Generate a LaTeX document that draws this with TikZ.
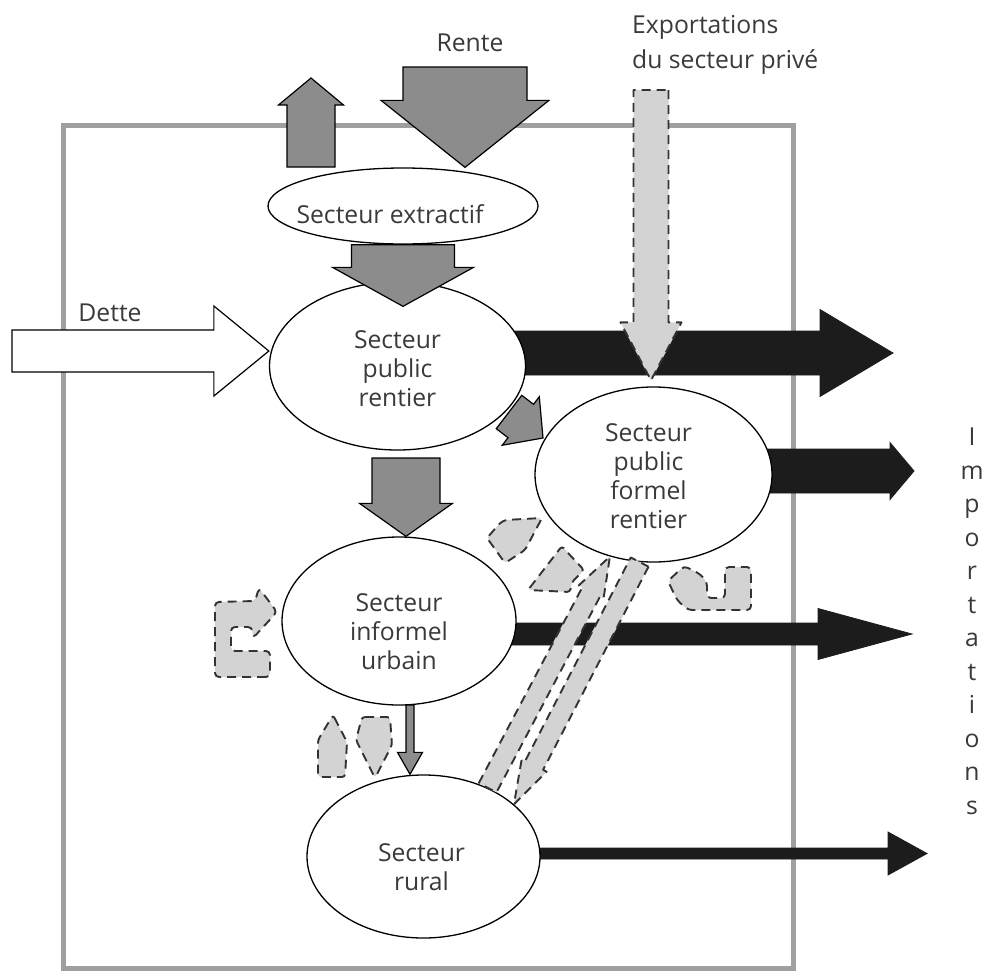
\documentclass[tikz,border=0pt]{standalone}
\usepackage{fontspec}
\setmainfont{Open Sans}
\usepackage{tikz}
\usetikzlibrary{calc,shapes.geometric,backgrounds}
\definecolor{rentgray}{HTML}{8C8C8C}
\definecolor{flowlight}{HTML}{D3D3D3}
\definecolor{framegray}{HTML}{A0A0A0}
\definecolor{importblack}{HTML}{1C1C1C}
\definecolor{labeltext}{HTML}{3A3A3A}
\tikzset{
  sector/.style={ellipse,draw=black,line width=1.3pt,fill=white,inner sep=0pt},
  sectortext/.style={align=center,font=\fontsize{24.7}{29}\selectfont,
                     text=labeltext,inner sep=0pt},
  flowtext/.style={font=\fontsize{24.7}{35}\selectfont,text=labeltext,inner sep=0pt},
  rentarrow/.style={fill=rentgray,draw=black,line width=1.2pt},
  importarrow/.style={fill=importblack,draw=importblack,line width=0.8pt},
  debtarrow/.style={fill=white,draw=black,line width=1.2pt},
  lightflow/.style={fill=flowlight,draw=black!80,line width=1.9pt,
                    dash pattern=on 9pt off 6pt,line join=round},
  framebox/.style={draw=framegray,line width=5pt},
}
% block arrow: style, tail, tip, shaft half width, head half width, head length
\newcommand\blockarrow[6]{%
  \coordinate (headbase) at ($(#3)!#6pt!(#2)$);
  \draw[#1] ($(#2)!#4pt!90:(#3)$) -- ($(headbase)!#4pt!90:(#3)$)
    -- ($(headbase)!#5pt!90:(#3)$) -- (#3)
    -- ($(headbase)!#5pt!-90:(#3)$) -- ($(headbase)!#4pt!-90:(#3)$)
    -- ($(#2)!#4pt!-90:(#3)$) -- cycle;
}

\begin{document}
\begin{tikzpicture}[x=1pt,y=-1pt]
  \useasboundingbox (0,0) rectangle (995,974);

  % sectors
  \node[sector,minimum width=270pt,minimum height=76pt] (extractif) at (403,206) {};
  \node[sector,minimum width=256pt,minimum height=168pt] (pubrent) at (397.5,366) {};
  \node[sector,minimum width=237pt,minimum height=175pt] (formel) at (653.5,474.5) {};
  \node[sector,minimum width=234pt,minimum height=168pt] (informel) at (399,621) {};
  \node[sector,minimum width=233pt,minimum height=163pt] (rural) at (423.5,856.5) {};

  \node[sectortext] (extractifTxt) at ($(extractif)+(-13,8)$) {Secteur extractif};
  \node[sectortext] (pubrentTxt) at ($(pubrent)+(0,3)$) {Secteur\\public\\rentier};
  \node[sectortext] (formelTxt) at ($(formel)+(-5,2)$) {Secteur\\public\\formel\\rentier};
  \node[sectortext] (informelTxt) at ($(informel)+(0,11)$) {Secteur\\informel\\urbain};
  \node[sectortext] (ruralTxt) at ($(rural)+(-2,11)$) {Secteur\\rural};

  % free ends of the flows
  \coordinate (renteSrc) at (465,67);
  \coordinate (fuiteSrc) at (311,167);
  \coordinate (fuiteTip) at (311,78);
  \coordinate (detteSrc) at (12,351);
  \coordinate (exportSrc) at (651,90);
  \coordinate (imp1) at (893,353);
  \coordinate (imp2) at (914,471);
  \coordinate (imp3) at (912,634);
  \coordinate (imp4) at (927,853.5);
  \coordinate (pubTip) at ($(extractif.south |- pubrent.north)+(0,25)$);
  \coordinate (downSrc) at (406,458);
  \coordinate (thinSrc) at (410,705);
  \coordinate (leakSrc) at (509,412);
  \coordinate (leakTip) at (543,438);
  \coordinate (exportTip) at ($(exportSrc |- formel.north)+(0,-6)$);

  \begin{pgfonlayer}{background}
    \draw[framebox] (63,125) rectangle (793,968);
    \foreach \sec/\tip/\w/\h/\l in {pubrent/imp1/22/43.5/73,formel/imp2/22/28.5/24,
                                    informel/imp3/11/25.5/94,rural/imp4/5.5/21.5/39}{
      \coordinate (impSrc) at (\sec |- \tip);
      \blockarrow{importarrow}{impSrc}{\tip}{\w}{\h}{\l}
    }
  \end{pgfonlayer}

  % rent flows
  \blockarrow{rentarrow}{renteSrc}{renteSrc |- extractif.north}{62}{84}{67}
  \blockarrow{rentarrow}{fuiteSrc}{fuiteTip}{24}{32.5}{27}
  \blockarrow{rentarrow}{extractif.south}{pubTip}{51.5}{70.5}{39}
  \blockarrow{rentarrow}{downSrc}{downSrc |- informel.north}{34}{46.5}{33}
  \blockarrow{rentarrow}{leakSrc}{leakTip}{21}{30.5}{28}
  \blockarrow{rentarrow}{thinSrc}{thinSrc |- rural.north}{4}{12.5}{22}
  \blockarrow{debtarrow}{detteSrc}{pubrent.west |- detteSrc}{21}{45}{55}

  % private flows
  \blockarrow{lightflow}{exportSrc}{exportTip}{17.5}{30.5}{58}
  \blockarrow{lightflow}{rural.47}{formel.242}{10}{14}{40}
  \blockarrow{lightflow}{formel.261}{rural.30}{10}{14}{44}
  \draw[lightflow,rounded corners=4pt] (270,677) -- (215,677) -- (215,602) -- (255,601)
    -- (259,588) -- (277,612) -- (253,638) -- (252,627) -- (231,627) -- (231,651)
    -- (270,651) -- cycle;
  \draw[lightflow,rounded corners=4pt] (668,581) -- (684,566) -- (700,574) -- (707,582)
    -- (707,598) -- (725,598) -- (725,567) -- (751,567) -- (751,610) -- (688,610)
    -- (677,600) -- cycle;
  \draw[lightflow,rounded corners=3pt] (487,538) -- (500,523) -- (505,520) -- (542,518)
    -- (525,550) -- (505,563) -- cycle;
  \draw[lightflow,rounded corners=3pt] (528,590) -- (562,546) -- (568,553) -- (584,570)
    -- (572,582) -- (570,592) -- cycle;
  \draw[lightflow,rounded corners=3pt] (333,715) -- (347,742) -- (345,777) -- (318,777)
    -- (318,740) -- cycle;
  \draw[lightflow,rounded corners=3pt] (362,717) -- (390,717) -- (392,745) -- (375,778)
    -- (356,740) -- cycle;

  % labels
  \node[flowtext,anchor=base] (renteLbl) at (470,52) {Rente};
  \node[flowtext,anchor=base] (detteLbl) at (110,321) {Dette};
  \node[flowtext,anchor=north west,align=left] (exportLbl) at (632,15)
    {Exportations\\du secteur privé};
  \node[flowtext,anchor=north,align=center,font=\fontsize{24.7}{33.5}\selectfont]
    (importLbl) at (972,428) {I\\m\\p\\o\\r\\t\\a\\t\\i\\o\\n\\s};
\end{tikzpicture}
\end{document}
